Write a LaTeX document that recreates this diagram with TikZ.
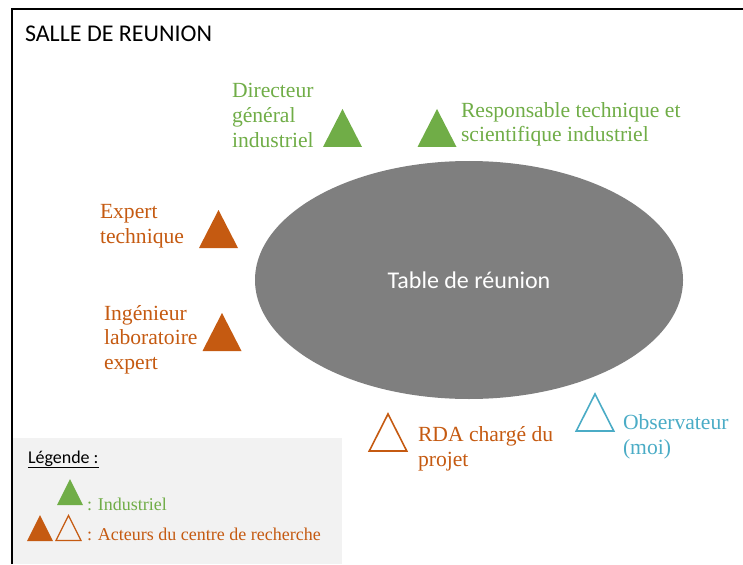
\documentclass[tikz,border=0pt]{standalone}
\usepackage{fontspec}
\setmainfont{Liberation Serif}
\newfontfamily\calibri{Carlito}
\usetikzlibrary{shapes.geometric}
\definecolor{indus}{HTML}{70AD47}
\definecolor{cdr}{HTML}{C55A11}
\definecolor{obs}{HTML}{4BACC6}
\definecolor{tablegray}{HTML}{7F7F7F}
\definecolor{legbg}{HTML}{F2F2F2}

\begin{document}
\begin{tikzpicture}[x=1pt, y=-1pt,
    every node/.style={inner sep=0pt, outer sep=0pt},
    tri/.style={isosceles triangle, shape border rotate=90, isosceles triangle stretches,
        minimum width=39pt, minimum height=38pt, anchor=south},
    opentri/.style={tri, minimum width=37.5pt, minimum height=37pt, line width=1.6pt, fill=white},
    smalltri/.style={tri, minimum width=26pt, minimum height=26pt},
    lbl/.style={font=\fontsize{21.6}{24.5}\selectfont, align=left, anchor=base west},
    leglbl/.style={font=\fontsize{18}{22}\selectfont, anchor=base west}]
    \useasboundingbox (0,0) rectangle (743,564);
    \fill[legbg] (12,438) rectangle (342,564);
    \draw[line width=2pt] (12,564) -- (12,9.5) -- (743,9.5);

    \node (titre) [anchor=base west, font=\calibri\fontsize{24}{28}\selectfont] at (25,42) {SALLE DE REUNION};
    \node (table) [ellipse, fill=tablegray, minimum width=428pt, minimum height=238pt,
        text=white, font=\calibri\fontsize{24}{28}\selectfont] at (469,280) {Table de réunion};

    \node (dg) [tri, fill=indus] at (342.5,147) {};
    \node (dgtxt) [lbl, text=indus] at (232,147) {Directeur\\général\\industriel};
    \node (rts) [tri, fill=indus] at (437,147) {};
    \node (rtstxt) [lbl, text=indus] at (461,142) {Responsable technique et\\scientifique industriel};
    \node (et) [tri, fill=cdr] at (218.5,248) {};
    \node (ettxt) [lbl, text=cdr] at (100,243) {Expert\\technique};
    \node (ile) [tri, fill=cdr] at (222,351) {};
    \node (iletxt) [lbl, text=cdr] at (104,369) {Ingénieur\\laboratoire\\expert};
    \node (rda) [opentri, draw=cdr] at (388,451) {};
    \node (rdatxt) [lbl, text=cdr] at (418,466) {RDA chargé du\\projet};
    \node (moi) [opentri, draw=obs] at (595,431) {};
    \node (moitxt) [lbl, text=obs] at (623,454) {Observateur\\(moi)};

    \node (legende) [anchor=base west, font=\calibri\fontsize{18}{22}\selectfont] at (28,463) {\underline{Légende :}};
    \node (legind) [smalltri, fill=indus] at (70,505) {};
    \node (legindtxt) [leglbl, text=indus] at (87,510) {: Industriel};
    \node (legcdr) [smalltri, fill=cdr] at (40,541) {};
    \node (legcdro) [smalltri, draw=cdr, line width=1.2pt, minimum width=25pt, minimum height=25pt] at (68.5,540.5) {};
    \node (legcdrtxt) [leglbl, text=cdr] at (87,540) {: Acteurs du centre de recherche};
\end{tikzpicture}
\end{document}
